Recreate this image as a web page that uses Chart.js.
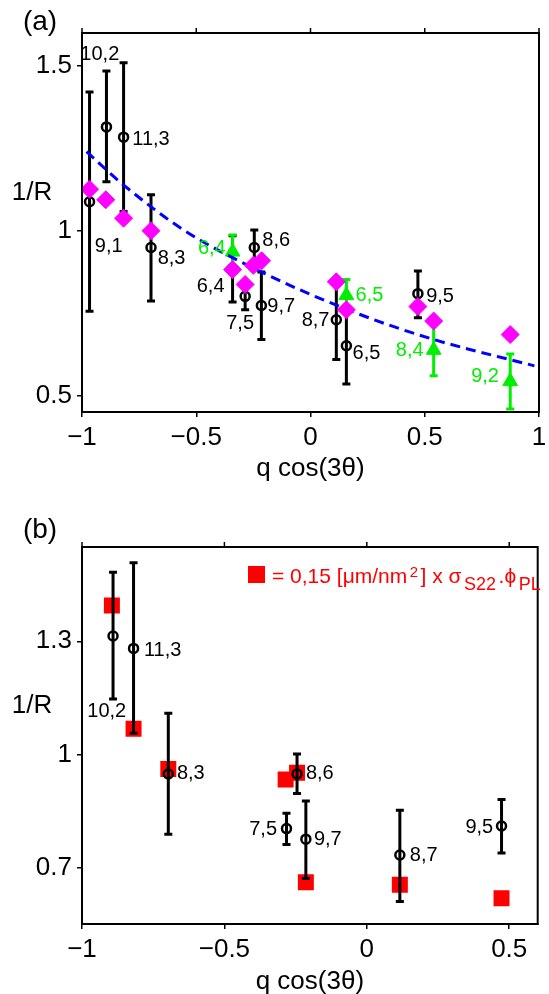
<!DOCTYPE html>
<html>
<head>
<meta charset="utf-8">
<script src="https://cdn.jsdelivr.net/npm/chart.js@4.4.1/dist/chart.umd.min.js"></script>
<style>
html, body { margin: 0; padding: 0; background: #fff; overflow: hidden; }
#wrapA { position: absolute; left: 0; top: 0; }
#wrapB { position: absolute; left: 0; top: 494px; }
</style>
</head>
<body>
<div id="wrapA"><canvas id="chartA" width="549" height="494"></canvas></div>
<div id="wrapB"><canvas id="chartB" width="549" height="510"></canvas></div>
<script>
const FONT = "'Liberation Sans', Arial, Helvetica, sans-serif";
const GREEN = '#00ee00';

// ---- panel (a) ----
const xTicksA = [-1, -0.5, 0, 0.5, 1];
const yTicksA = [0.5, 1, 1.5];

// black circles (measured), with error bar ends
const blackXA  = [-0.967, -0.893, -0.818, -0.698, -0.341, -0.286, -0.246, -0.215, 0.113, 0.157, 0.470];
const blackYA  = [1.088, 1.315, 1.284, 0.949, 0.885, 0.801, 0.949, 0.773, 0.730, 0.651, 0.809];
const blackLoA = [0.756, 1.149, 1.058, 0.787, 0.784, 0.760, 0.895, 0.670, 0.609, 0.535, 0.736];
const blackHiA = [1.421, 1.485, 1.510, 1.109, 0.985, 0.842, 1.002, 0.875, 0.850, 0.770, 0.878];

// green triangles
const greenXA  = [-0.341, 0.157, 0.539, 0.874];
const greenYA  = [0.936, 0.804, 0.638, 0.543];
const greenLoA = [0.890, 0.756, 0.560, 0.459];
const greenHiA = [0.987, 0.852, 0.716, 0.626];

// magenta diamonds
const diamondXA = [-0.967, -0.896, -0.818, -0.698, -0.341, -0.286, -0.250, -0.214, 0.113, 0.157, 0.470, 0.539, 0.874];
const diamondYA = [1.126, 1.094, 1.038, 1.000, 0.882, 0.837, 0.895, 0.909, 0.845, 0.760, 0.770, 0.726, 0.685];

// blue dashed fit
const fitXA = [-0.98, -0.82, -0.55, -0.20, 0.19, 0.52, 0.98];
const fitYA = [1.24, 1.14, 1.00, 0.87, 0.753, 0.674, 0.59];

// point labels
const labelTextA  = ['10,2', '11,3', '9,1', '8,3', '6,4', '6,4', '7,5', '8,6', '9,7', '8,7', '6,5', '6,5', '9,5', '8,4', '9,2'];
const labelXA     = [-0.922, -0.698, -0.883, -0.608, -0.432, -0.437, -0.308, -0.150, -0.128, 0.022, 0.245, 0.258, 0.567, 0.434, 0.764];
const labelYA     = [1.536, 1.276, 0.953, 0.917, 0.947, 0.831, 0.719, 0.971, 0.771, 0.728, 0.627, 0.804, 0.801, 0.636, 0.557];
const labelGreenA = [false, false, false, false, true, false, false, false, false, false, false, true, false, true, true];

// ---- panel (b) ----
const xTicksB = [-1, -0.5, 0, 0.5];
const yTicksB = [0.7, 1, 1.3];

const blackXB  = [-0.891, -0.819, -0.697, -0.282, -0.245, -0.214, 0.116, 0.473];
const blackYB  = [1.314, 1.281, 0.948, 0.803, 0.948, 0.775, 0.733, 0.810];
const blackLoB = [1.147, 1.056, 0.788, 0.761, 0.896, 0.671, 0.610, 0.738];
const blackHiB = [1.483, 1.508, 1.109, 0.844, 1.001, 0.876, 0.852, 0.880];

const redXB = [-0.895, -0.819, -0.697, -0.285, -0.245, -0.214, 0.116, 0.473];
const redYB = [1.395, 1.068, 0.961, 0.933, 0.951, 0.661, 0.654, 0.618];

const labelTextB = ['11,3', '10,2', '8,3', '7,5', '8,6', '9,7', '8,7', '9,5'];
const labelXB    = [-0.717, -0.913, -0.618, -0.364, -0.165, -0.137, 0.200, 0.395];
const labelYB    = [1.276, 1.113, 0.949, 0.801, 0.949, 0.775, 0.733, 0.807];

const pts = (xs, ys) => xs.map((x, i) => ({ x: x, y: ys[i] }));
const fmt = v => (v < 0 ? '\u2212' : '') + Math.abs(v);

// error bars drawn right before their own dataset
const errorBars = {
  id: 'errorBars',
  beforeDatasetDraw(chart, args) {
    const ds = chart.data.datasets[args.index];
    if (!ds.errLo) return;
    const { ctx, scales: { x, y } } = chart;
    ctx.save();
    ctx.strokeStyle = ds.borderColor;
    ctx.lineWidth = 3;
    ds.data.forEach((p, i) => {
      const px = x.getPixelForValue(p.x);
      const y1 = y.getPixelForValue(ds.errLo[i]);
      const y2 = y.getPixelForValue(ds.errHi[i]);
      ctx.beginPath();
      ctx.moveTo(px, y1); ctx.lineTo(px, y2);
      ctx.moveTo(px - 4, y1); ctx.lineTo(px + 4, y1);
      ctx.moveTo(px - 4, y2); ctx.lineTo(px + 4, y2);
      ctx.stroke();
    });
    ctx.restore();
  }
};

// box, top ticks and text
const decorations = {
  id: 'decorations',
  afterDraw(chart, args, opts) {
    const { ctx, chartArea: a, scales: { x, y } } = chart;
    ctx.save();
    ctx.strokeStyle = '#000';
    ctx.lineWidth = 2;
    ctx.strokeRect(a.left, a.top, a.right - a.left, a.bottom - a.top);
    ctx.lineWidth = 1.5;
    x.ticks.forEach(t => {
      const px = x.getPixelForValue(t.value);
      ctx.beginPath();
      ctx.moveTo(px, a.top);
      ctx.lineTo(px, a.top - 5);
      ctx.stroke();
    });

    ctx.fillStyle = '#000';
    ctx.textAlign = 'center';
    ctx.textBaseline = 'middle';
    ctx.font = '28px ' + FONT;
    ctx.fillText(opts.panel, 40, opts.panelY);
    ctx.font = '26px ' + FONT;
    ctx.fillText('1/R', 32, opts.ylabelY);

    ctx.font = '20px ' + FONT;
    opts.labels.forEach((t, i) => {
      ctx.fillStyle = opts.green && opts.green[i] ? GREEN : '#000';
      ctx.fillText(t, x.getPixelForValue(opts.lx[i]), y.getPixelForValue(opts.ly[i]));
    });

    if (opts.legend) {
      ctx.fillStyle = '#ff0000';
      ctx.fillRect(248, 72, 17, 17);
      ctx.textAlign = 'left';
      ctx.textBaseline = 'alphabetic';
      const parts = [
        ['= 0,15 [\u03bcm/nm', 21, 89],
        ['2', 15, 83],
        ['] x \u03c3', 21, 89],
        ['S22', 18, 96],
        ['.\u03d5', 21, 89],
        ['PL', 18, 96]
      ];
      let cx = 272;
      parts.forEach(p => {
        ctx.font = p[1] + 'px ' + FONT;
        ctx.fillText(p[0], cx, p[2]);
        cx += ctx.measureText(p[0]).width + 2.5;
      });
    }
    ctx.restore();
  }
};

function makeScales(xMin, xMax, yMin, yMax, xTicks, yTicks, xHeight, titlePad) {
  return {
    x: {
      type: 'linear', min: xMin, max: xMax,
      afterBuildTicks: s => { s.ticks = xTicks.map(v => ({ value: v })); },
      afterFit: s => { s.height = xHeight; s.paddingLeft = 0; s.paddingRight = 0; },
      ticks: { font: { family: FONT, size: 26 }, color: '#000', padding: 5, maxRotation: 0, autoSkip: false, callback: v => fmt(v) },
      grid: { drawOnChartArea: false, drawTicks: true, tickLength: 5, color: '#000', lineWidth: 1.5 },
      border: { display: true, color: '#000', width: 2 },
      title: { display: true, text: 'q cos(3\u03b8)', font: { family: FONT, size: 26 }, color: '#000', padding: { top: 0, bottom: titlePad } }
    },
    y: {
      type: 'linear', min: yMin, max: yMax,
      afterBuildTicks: s => { s.ticks = yTicks.map(v => ({ value: v })); },
      afterFit: s => { s.width = 82; s.paddingTop = 0; s.paddingBottom = 0; },
      ticks: { font: { family: FONT, size: 26 }, color: '#000', padding: 5, autoSkip: false, callback: v => fmt(v) },
      grid: { drawOnChartArea: false, drawTicks: true, tickLength: 5, color: '#000', lineWidth: 1.5 },
      border: { display: true, color: '#000', width: 2 }
    }
  };
}

const chartA = new Chart(document.getElementById('chartA').getContext('2d'), {
  type: 'scatter',
  data: {
    datasets: [
      { label: 'diamonds', data: pts(diamondXA, diamondYA), pointStyle: 'rectRot', pointRadius: 9,
        backgroundColor: '#ff00ff', borderColor: '#ff00ff', borderWidth: 1 },
      { label: 'fit', type: 'line', data: pts(fitXA, fitYA), borderColor: '#0000ff', borderWidth: 3,
        borderDash: [10, 6], pointRadius: 0, fill: false, cubicInterpolationMode: 'monotone' },
      { label: 'green', data: pts(greenXA, greenYA), errLo: greenLoA, errHi: greenHiA, pointStyle: 'triangle',
        pointRadius: 8.5, backgroundColor: GREEN, borderColor: GREEN, borderWidth: 1 },
      { label: 'black', data: pts(blackXA, blackYA), errLo: blackLoA, errHi: blackHiA, pointStyle: 'circle',
        pointRadius: 4.5, backgroundColor: 'rgba(0,0,0,0)', borderColor: '#000', borderWidth: 2.5 }
    ]
  },
  options: {
    responsive: false,
    animation: false,
    layout: { padding: { top: 33, right: 1, left: 0, bottom: 0 } },
    scales: makeScales(-1, 1, 0.45, 1.6, xTicksA, yTicksA, 82, 10),
    plugins: {
      legend: { display: false },
      tooltip: { enabled: false },
      decorations: { panel: '(a)', panelY: 22, ylabelY: 193, labels: labelTextA, lx: labelXA, ly: labelYA, green: labelGreenA }
    }
  },
  plugins: [errorBars, decorations]
});

const chartB = new Chart(document.getElementById('chartB').getContext('2d'), {
  type: 'scatter',
  data: {
    datasets: [
      { label: 'black', data: pts(blackXB, blackYB), errLo: blackLoB, errHi: blackHiB, pointStyle: 'circle',
        pointRadius: 4.5, backgroundColor: 'rgba(0,0,0,0)', borderColor: '#000', borderWidth: 2.5 },
      { label: 'red', data: pts(redXB, redYB), pointStyle: 'rect', pointRadius: 11.3,
        backgroundColor: '#ff0000', borderColor: '#ff0000', borderWidth: 0 }
    ]
  },
  options: {
    responsive: false,
    animation: false,
    layout: { padding: { top: 53, right: 1, left: 0, bottom: 0 } },
    scales: makeScales(-1, 0.6, 0.55, 1.55, xTicksB, yTicksB, 80, 7),
    plugins: {
      legend: { display: false },
      tooltip: { enabled: false },
      decorations: { panel: '(b)', panelY: 36, ylabelY: 212, labels: labelTextB, lx: labelXB, ly: labelYB, legend: true }
    }
  },
  plugins: [errorBars, decorations]
});
</script>
</body>
</html>
